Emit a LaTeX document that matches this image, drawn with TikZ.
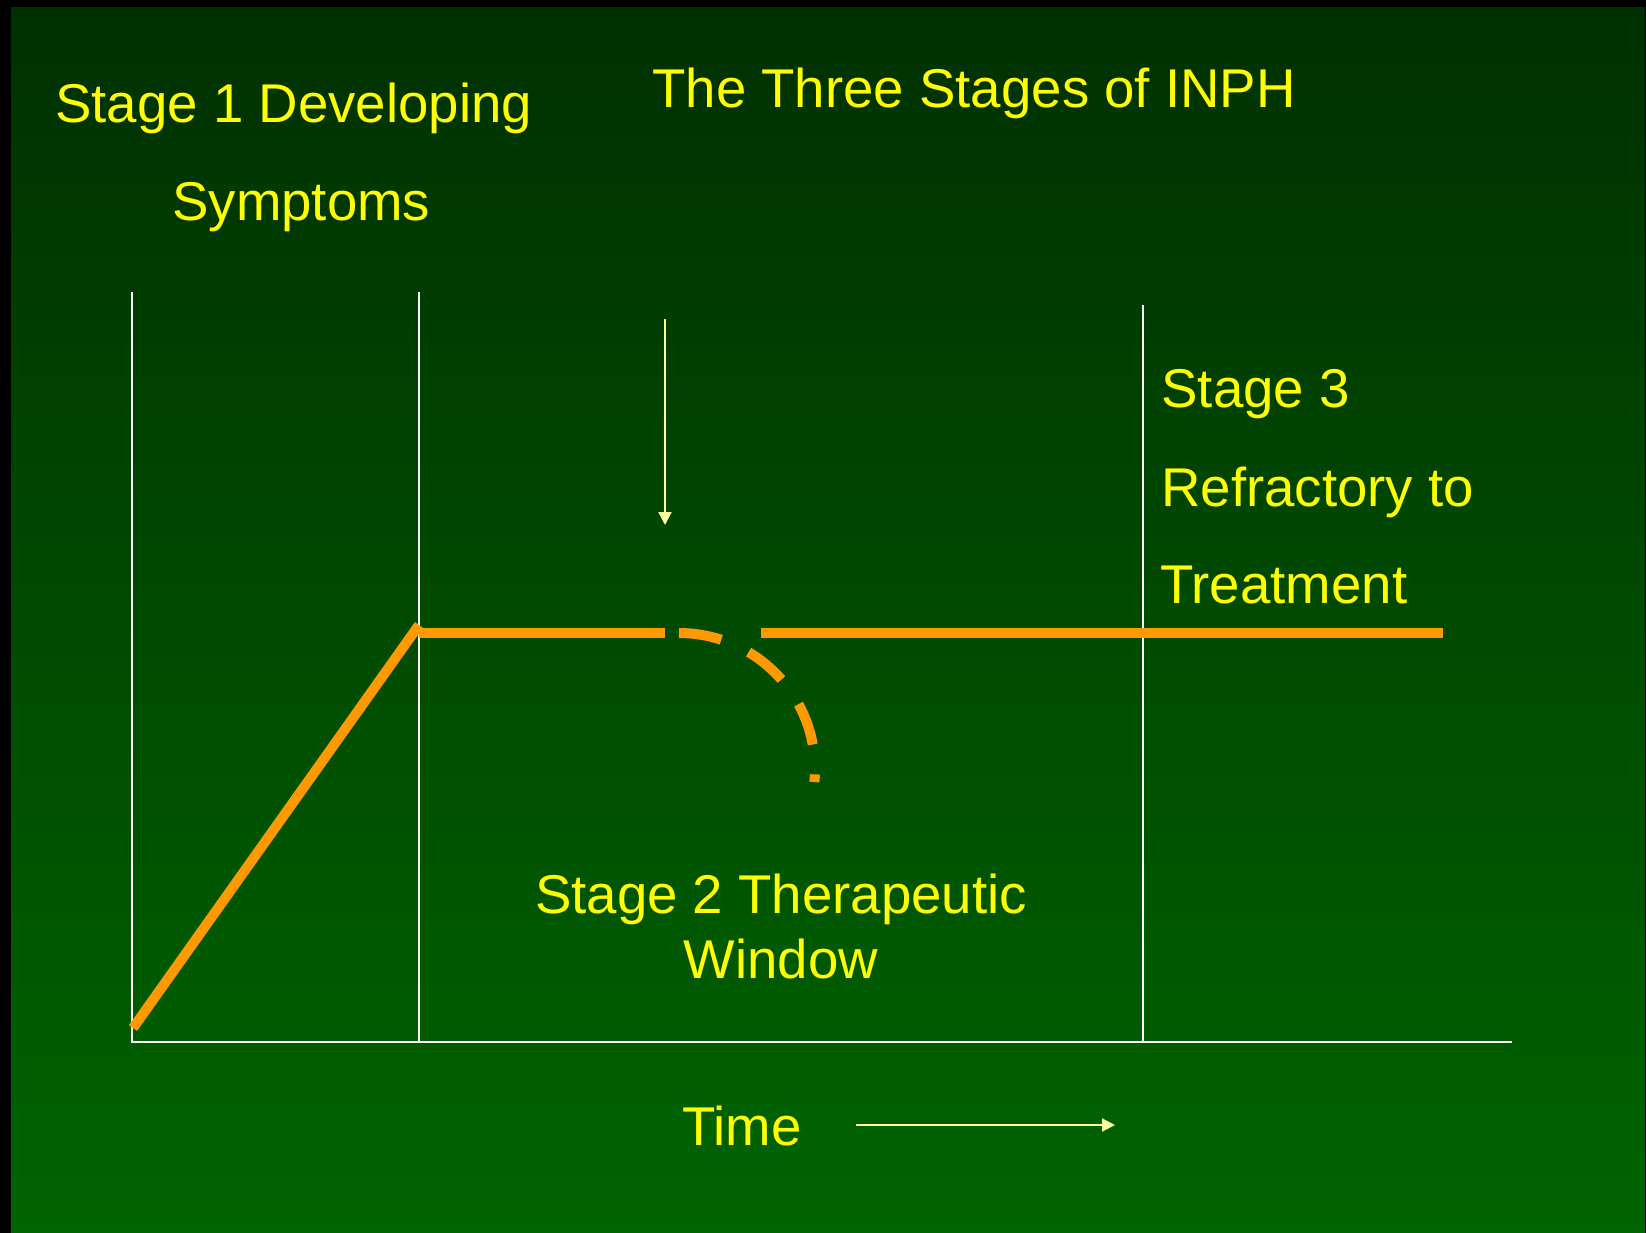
\documentclass[tikz,border=0pt]{standalone}
\usepackage{fontspec}
\setmainfont{Liberation Sans}
\usetikzlibrary{arrows.meta,positioning}
\definecolor{inphTop}{HTML}{003000}
\definecolor{inphBottom}{HTML}{006400}
\definecolor{inphYellow}{HTML}{FFFF00}
\definecolor{inphPale}{HTML}{FFFF99}
\definecolor{inphOrange}{HTML}{FF9900}

\begin{document}
\begin{tikzpicture}[x=0.5pt,y=-0.5pt,
  stagetext/.style={text=inphYellow,font=\fontsize{27.3}{32}\selectfont,inner sep=0pt},
  axisline/.style={draw=white,line width=1pt},
  course/.style={draw=inphOrange,line width=5pt},
  pointer/.style={draw=inphPale,line width=1pt,-{Triangle[length=6.5pt,width=6.5pt]}}]
  \useasboundingbox (0,0) rectangle (1646,1233);
  % frame and background
  \fill[black] (0,0) rectangle (1646,1233);
  \shade[top color=inphTop,bottom color=inphBottom] (11,7) rectangle (1645,1232);

  % axes and stage borders
  \coordinate (o) at (132,1042);
  \coordinate (xend) at (1512,1042);
  \coordinate (b1top) at (132,292);
  \coordinate (b2top) at (419,292);
  \coordinate (b2bot) at (419,1042);
  \coordinate (b3top) at (1143,305);
  \coordinate (b3bot) at (1143,1042);
  \draw[axisline] (b1top) -- (o) -- (xend);
  \draw[axisline] (b2top) -- (b2bot);
  \draw[axisline] (b3top) -- (b3bot);

  % course of the disease
  \coordinate (c0) at (133,1028);
  \coordinate (c1) at (419,625);
  \coordinate (h0) at (419,633);
  \coordinate (h1) at (665,633);
  \coordinate (h2) at (761,633);
  \coordinate (h3) at (1443,633);
  \coordinate (d0) at (679,633);
  \draw[course] (c0) -- (c1);
  \draw[course] (h0) -- (h1);
  \draw[course] (h2) -- (h3);
  \draw[course,dash pattern=on 21.5pt off 15pt]
    (d0) arc[start angle=-90,end angle=5.5,radius=136];

  % arrows
  \coordinate (p0) at (665,319);
  \coordinate (p1) at (665,525);
  \draw[pointer] (p0) -- (p1);
  \coordinate (t0) at (856,1125);
  \coordinate (t1) at (1115,1125);
  \draw[pointer] (t0) -- (t1);

  % texts
  \node[stagetext,anchor=base west] (title) at (652,107) {The Three Stages of INPH};
  \node[stagetext,anchor=base west] (s1a) at (55,122) {Stage 1 Developing};
  \node[stagetext,anchor=base west] (s1b) at (172,220) {Symptoms};
  \node[stagetext,anchor=base] (s2a) at (781,913) {Stage 2 Therapeutic};
  \node[stagetext,anchor=base] (s2b) at (781,978) {Window};
  \node[stagetext,anchor=base west] (s3a) at (1161,407) {Stage 3};
  \node[stagetext,anchor=base west] (s3b) at (1161,506) {Refractory to};
  \node[stagetext,anchor=base west] (s3c) at (1160,603) {Treatment};
  \node[stagetext,anchor=base west] (time) at (682,1145) {Time};
\end{tikzpicture}
\end{document}
